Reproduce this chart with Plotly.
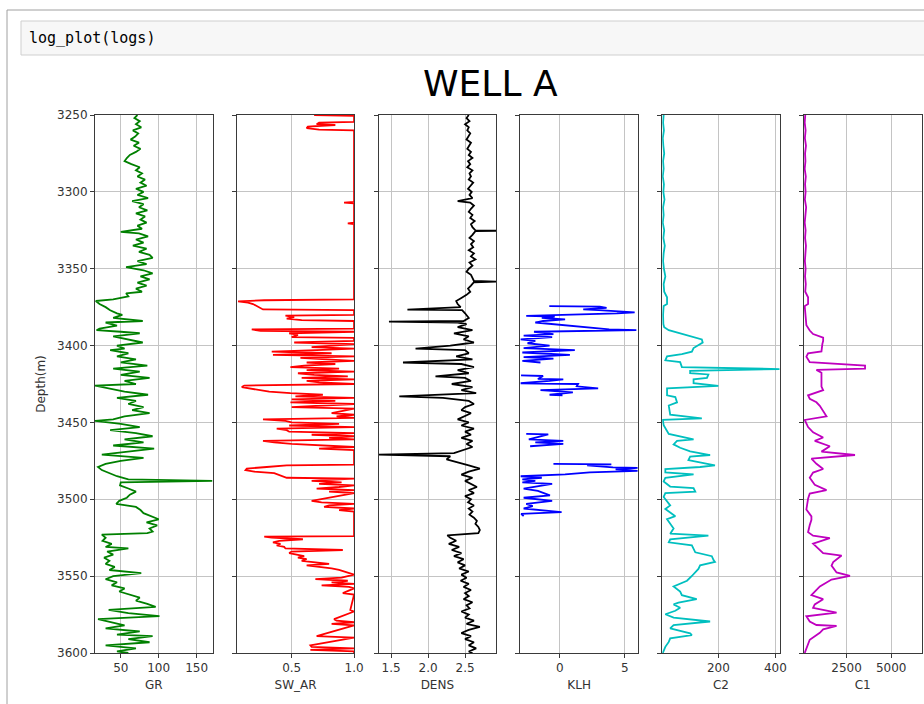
import plotly.graph_objects as go

W, H = 924, 704

# ---------------- data ----------------
gr_depth = [3250,3252,3254,3256,3258,3260,3262,3264,3266,3268,3270,3272,3274,3276,3278,3280,3282,3284,3286,3288,
            3290,3292,3294,3296,3298,3300,3302,3304,3306,3308,3310,3312,3314,3316,3318,3320,3322,3324,3326,3327,
            3329,3331,3333,3335,3337,3339,3341,3343,3345,3347,3349,3351,3353,3355,3357,3359,3361,3363,3365,3366,
            3368,3369,3370,3371,3373,3375,3377,3379,3380,3382,3384,3385,3387,3389,3390,3391,3392,3394,3396,3398,
            3400,3402,3403,3405,3407,3409,3411,3413,3415,3417,3419,3421,3423,3425,3426,3428,3430,3432,3434,3436,
            3438,3440,3442,3444,3446,3448,3449,3451,3453,3455,3457,3459,3461,3463,3465,3467,3469,3471,3473,3475,
            3477,3479,3481,3483,3485,3487,3488,3489,3491,3493,3495,3497,3499,3501,3503,3505,3507,3509,3511,3513,
            3515,3517,3519,3521,3522,3523,3525,3527,3529,3531,3532,3534,3536,3538,3540,3542,3544,3546,3548,3550,
            3552,3554,3556,3558,3560,3562,3564,3566,3568,3570,3572,3574,3576,3578,3580,3582,3584,3586,3588,3589,
            3591,3593,3595,3597,3599,3600]
gr_value = [72,68,75,70,77,66,73,69,63,74,67,76,70,62,58,55,64,75,70,78,
            72,82,76,84,70,80,72,86,65,80,74,85,70,82,76,84,72,78,50,74,
            86,70,80,66,84,74,88,92,72,84,57,80,92,76,88,72,84,70,78,57,
            60,50,40,17,22,30,36,45,52,40,79,30,45,22,18,50,75,40,60,79,
            45,55,36,60,45,70,50,85,40,75,50,88,55,70,16,35,55,86,45,70,
            60,80,65,88,55,40,16,50,75,36,70,92,55,80,40,94,60,25,80,50,
            30,20,25,35,45,60,171,50,49,60,70,62,58,48,44,70,76,80,90,100,
            84,98,88,92,85,25,30,26,38,30,60,32,40,28,35,30,42,35,77,40,
            30,45,38,55,48,60,75,70,85,96,34,60,101,20,40,55,30,75,45,92,
            60,88,30,70,45,60]

sw_depth = [3250,3250.6,3254.5,3255,3256,3256.5,3257.5,3258.5,3259.5,3260,3306.5,3307,3307.5,3320,3320.5,3321,
            3370,3370.5,3371.2,3372,3373,3374,3375.5,3376.5,3377,3380,3380.5,3381.5,3382.5,3383.5,3384,3389,
            3389.5,3390.5,3391,3392,3393,3394.5,3395,3397,3398,3399,3401,3402,3403,3404,3405,3406,3407,3408,
            3409,3410,3411,3412,3413,3414,3415,3416,3417,3418,3419,3420,3421,3422,3423,3424,3425,3426,3427,3428,
            3429,3430,3431,3432,3433,3434,3435,3436,3437,3438,3440,3441,3444,3445,3446,3447,3448,3449,3450,3451,
            3452,3453,3454,3455,3456,3457,3458,3459,3460,3461,3462,3463,3464,3465,3466,3467,3468,3477.5,3478,3479,
            3480,3481,3482,3483,3484,3485,3486,3486.5,3488,3489,3490,3491,3492,3493,3494,3495,3496,3501,3502,3503,
            3504,3505,3506,3507,3508,3524,3524.3,3525,3526,3527,3528,3529,3530,3531,3532,3533,3534,3535,3536,3537,
            3538,3539,3540,3541,3542,3543,3544,3545,3546,3547,3548,3549,3551,3552,3553,3554,3555,3556,3557,3558,
            3561,3562,3572,3573,3578,3579,3580,3581,3582,3589,3590,3595,3596,3597,3598,3599,3600]
sw_value = [0.68,1.0,1.0,0.72,0.70,0.85,0.63,0.62,0.72,1.0,1.0,0.92,1.0,1.0,0.95,1.0,
            1.0,0.28,0.07,0.15,0.19,0.21,0.24,0.27,1.0,1.0,0.45,0.52,0.46,0.58,1.0,1.0,
            0.18,0.25,1.0,0.48,0.55,0.50,1.0,1.0,0.52,1.0,0.66,1.0,0.70,0.34,0.82,0.35,1.0,0.57,
            0.78,1.0,0.62,0.85,0.60,0.49,0.88,0.62,1.0,0.55,0.68,0.95,0.58,1.0,0.62,0.72,1.0,0.12,0.10,0.18,
            0.25,0.32,0.49,0.75,0.53,1.0,0.50,0.85,0.49,1.0,0.50,1.0,0.82,1.0,0.86,1.0,0.27,0.45,0.50,0.88,
            0.48,1.0,0.38,0.46,0.48,1.0,0.66,1.0,0.80,1.0,0.27,0.36,0.50,0.75,1.0,0.72,1.0,1.0,0.46,0.30,
            0.14,0.13,0.20,0.36,0.40,0.44,0.46,1.0,0.66,0.90,0.72,1.0,0.88,0.70,1.0,0.80,1.0,0.66,0.74,1.0,
            0.80,0.76,1.0,0.88,1.0,1.0,0.28,0.34,0.59,0.40,0.35,0.41,0.38,0.44,0.45,0.91,0.50,0.48,0.53,0.60,
            0.55,0.62,0.58,0.70,0.80,0.62,0.75,0.82,0.88,0.92,0.96,1.0,0.90,0.69,0.95,0.82,1.0,0.74,0.96,1.0,
            0.91,1.0,0.97,1.0,0.84,0.86,1.0,0.82,1.0,0.70,1.0,0.65,0.66,1.0,0.65,1.0,1.0]

dens_depth = [3250,3252,3254,3256,3258,3260,3262,3264,3266,3268,3270,3272,3274,3276,3278,3280,3282,3284,3286,3288,
              3290,3292,3294,3296,3298,3300,3302,3304,3306,3307,3309,3311,3313,3315,3317,3319,3321,3323,3325,3325.3,
              3325.6,3328,3330,3332,3334,3336,3338,3340,3342,3344,3346,3348,3350,3352,3354,3356,3358,3358.4,3358.8,3361,
              3363,3365,3367,3369,3371,3373,3375,3376.6,3377,3379,3382,3384,3384.4,3385,3386,3388,3390,3392,3394,3396,
              3398,3400,3402,3403,3405,3407,3409,3411,3412,3414,3416,3418,3420,3421,3423,3425,3427,3429,3431,3433,
              3434,3436,3438,3440,3442,3444,3446,3448,3450,3452,3454,3456,3458,3460,3462,3464,3466,3468,3470,3471,
              3472,3474,3476,3478,3480,3482,3484,3486,3488,3490,3492,3494,3496,3498,3500,3502,3504,3506,3508,3510,
              3512,3514,3516,3518,3520,3522,3523.5,3525,3527,3529,3531,3533,3535,3537,3539,3541,3543,3545,3547,3549,
              3551,3553,3555,3557,3559,3561,3563,3565,3567,3569,3571,3573,3575,3577,3579,3581,3583,3585,3587,3589,
              3591,3593,3595,3597,3599,3600]
dens_value = [2.55,2.52,2.56,2.50,2.55,2.53,2.57,2.54,2.52,2.58,2.56,2.53,2.58,2.55,2.60,2.54,2.57,2.53,2.60,2.56,
              2.58,2.55,2.61,2.57,2.54,2.59,2.56,2.60,2.40,2.57,2.62,2.58,2.55,2.60,2.57,2.63,2.58,2.60,2.64,2.92,
              2.64,2.60,2.56,2.62,2.58,2.61,2.55,2.62,2.58,2.64,2.56,2.60,2.55,2.52,2.58,2.60,2.62,2.92,2.62,2.58,
              2.54,2.57,2.52,2.45,2.38,2.40,2.44,1.72,2.46,2.50,2.55,2.48,1.47,2.40,2.52,2.40,2.60,2.35,2.55,2.48,
              2.62,2.30,1.83,2.50,2.55,2.38,2.60,1.66,2.45,2.62,2.40,2.55,2.10,2.50,2.58,2.32,2.60,2.45,2.65,1.61,
              2.20,2.55,2.62,2.50,2.45,2.58,2.50,2.40,2.55,2.45,2.62,2.50,2.58,2.45,2.60,2.52,2.60,2.48,2.35,1.33,
              2.30,2.25,2.42,2.55,2.70,2.55,2.45,2.60,2.50,2.58,2.66,2.55,2.62,2.50,2.58,2.54,2.62,2.55,2.60,2.56,
              2.62,2.66,2.64,2.68,2.70,2.68,2.26,2.30,2.38,2.28,2.42,2.32,2.45,2.35,2.48,2.40,2.50,2.42,2.55,2.45,
              2.52,2.44,2.55,2.48,2.58,2.50,2.55,2.48,2.60,2.52,2.56,2.45,2.55,2.50,2.62,2.52,2.70,2.55,2.45,2.58,
              2.50,2.62,2.55,2.65,2.55,2.60]

klh_depth = [3374.3,3374.6,3375.5,3376.5,3377,3378.4,3379,3380,3380.7,3381.2,3382,3383,3384,3385,3386,3389.5,3390,
             3391,3392.5,3393.5,3394.5,3396,3397,3398.5,3400,3401.6,3403,3404.5,3406,3407.5,3408.5,3410,3411,3412,
             3419.4,3419.8,3421.7,3422,3423,3424.5,3425,3426.5,3427.9,3429,3430.5,3432,3432.4,3433,
             3457.5,3457.8,3461,3462,3463,3464,3465.5,3466,
             3477,3477.3,3478,3479.2,3479.6,3480.5,3481.5,3482.5,3483.8,3485,3486,3487,3488,3489,3490,3491.7,
             3493,3494.5,3497.4,3499,3501,3503,3504.5,3506,3508.4,3509.5,3511]
klh_value = [-0.82,3.08,3.6,1.8,3.0,5.77,4.4,-1.0,-2.6,-0.4,-1.4,0.4,-1.3,-1.9,-0.6,3.8,5.9,
             -2.0,-0.5,-2.8,-0.6,-3.05,-1.9,-2.5,-0.8,-2.8,1.15,-2.9,0.77,-2.8,-0.5,-2.9,-1.5,None,
             -3.0,-1.3,-1.7,0.26,-0.8,-3.05,1.4,1.3,2.95,-1.5,1.0,-0.8,0.2,None,
             -2.6,-0.9,-2.4,0.26,-1.9,0.26,-2.3,None,
             -0.5,3.97,2.1,4.1,6.0,4.3,6.0,2.3,0.4,-3.05,-1.4,-2.9,-1.9,-2.9,-0.6,-1.8,
             -2.8,-1.7,-0.77,-2.8,-0.6,-2.6,-2.1,-2.8,0.13,-3.0,-2.8]

c2_depth = [3250,3255,3260,3265,3270,3275,3280,3285,3290,3295,3300,3305,3310,3315,3320,3325,3330,3335,3340,3345,
            3350,3355,3360,3365,3368.6,3373,3374.3,3380,3386,3388,3390,3392.5,3394.8,3396,3398,3399,3401.6,3404,3405.5,3407,
            3409.6,3410.8,3414,3415.3,3416.5,3418,3418.8,3421,3422,3424.5,3426.2,3427.9,3432.4,3433.5,3437,3439,3445,3447.3,3448.4,3451.8,
            3454,3457.5,3461,3462,3464.3,3466.5,3468.8,3471.2,3472.3,3474.5,3478,3479,3480.3,3482.5,3483.8,3485,3486,3488.4,3491.7,3492.8,
            3495,3496,3498.5,3504,3506.3,3511,3513,3519,3522.4,3523.6,3526,3528,3530,3534.5,3537,3539.5,3540.8,3543,3545.3,3549.9,
            3553,3556.7,3560,3562.4,3565,3567.3,3568.4,3570.6,3572.5,3574.8,3577,3579.5,3581.8,3584,3587.2,3588.3,3590.5,3592.8,3596,3600]
c2_value = [8,6,9,5,7,10,6,8,5,9,7,11,6,8,5,10,7,12,8,6,
            9,14,8,10,20,20,8,6,7,10,26,72,113,142,145,135,113,107,72,20,
            14,66,72,415,101,101,165,160,113,113,200,20,20,49,55,26,31,142,5,8,
            14,26,113,55,43,66,101,171,101,95,188,136,14,14,113,55,14,8,31,113,
            119,14,8,31,14,49,20,43,31,165,31,26,107,119,177,183,188,136,130,107,
            90,43,66,72,124,60,43,66,49,14,43,171,43,31,101,107,31,26,14,5]

c1_depth = [3250,3255,3260,3265,3270,3275,3280,3285,3290,3295,3300,3305,3310,3315,3320,3325,3330,3335,3340,3345,
            3350,3355,3360,3365,3368.6,3373,3374.3,3380,3386.8,3390.2,3392.5,3394.8,3397,3399,3401.6,3403.8,3405,3407.2,3410.8,3413,
            3415,3415.8,3417.7,3420,3426.7,3429,3432.4,3434.6,3436.9,3439.2,3442.7,3446,3448.4,3453,3456.4,3459.8,3462,3465.5,3469,3471.2,
            3473.5,3476.9,3480.3,3482.6,3486,3490.6,3494,3496.3,3499.7,3506.6,3511.1,3513.4,3516.8,3521.4,3523.7,3525.3,3528.8,3531.1,3535,3536.6,
            3540.8,3543.1,3547.6,3549.9,3552.2,3556.7,3559,3562.4,3565,3568.4,3570.6,3573.8,3576.1,3579.5,3581.8,3582.4,3584.6,3586.9,3591.4,3600]
c1_value = [180,150,200,160,220,170,190,150,210,170,200,160,230,180,150,200,170,220,180,160,
            200,170,210,180,338,338,150,180,244,432,620,1184,1184,1140,1090,1090,338,244,432,3534,
            3534,808,1090,1090,1090,1184,338,432,808,996,1184,1372,150,338,620,1184,714,1560,1090,2970,
            526,808,1184,620,432,714,1372,432,338,244,526,526,432,338,620,1560,620,808,1184,2218,
            1748,1654,1936,2688,1654,1000,808,526,1184,714,620,1936,244,432,808,1936,1184,996,432,150]

curve_names = ["GR", "SW_AR", "DENS", "KLH", "C2", "C1"]
curve_colors = ["#008000", "#ff0000", "#000000", "#0000ff", "#00bfbf", "#bf00bf"]
x_ranges = [[16, 171], [0.06, 1.002], [1.33, 2.92], [-3.05, 6.02], [3, 415], [110, 6700]]
x_tickvals = [[50, 100, 150], [0.5, 1.0], [1.5, 2.0, 2.5], [0, 5], [200, 400], [2500, 5000]]
x_ticktext = [["50", "100", "150"], ["0.5", "1.0"], ["1.5", "2.0", "2.5"], ["0", "5"], ["200", "400"], ["2500", "5000"]]
depth_ticks = [3250, 3300, 3350, 3400, 3450, 3500, 3550, 3600]
depth_range = [3600, 3250]
title_text = "WELL A"
cell_code = "log_plot(logs)"

depths = [gr_depth, sw_depth, dens_depth, klh_depth, c2_depth, c1_depth]
values = [gr_value, sw_value, dens_value, klh_value, c2_value, c1_value]

# ---------------- layout helpers (pixel -> paper) ----------------
def px(x):
    return x / W

def py(y):
    return 1 - y / H

panel_left0 = 95.0
panel_step = 141.8
panel_w = 117.5
top_px, bot_px = 115, 653

fig = go.Figure()
layout = dict(
    width=W, height=H,
    margin=dict(l=0, r=0, t=0, b=0),
    paper_bgcolor="white", plot_bgcolor="white",
    showlegend=False,
    font=dict(family="DejaVu Sans", size=12, color="#333333"),
)

axis_line = "#3a3a3a"
grid_col = "#c4c4c4"

for i in range(6):
    n = "" if i == 0 else str(i + 1)
    fig.add_trace(go.Scatter(
        x=values[i], y=depths[i], mode="lines",
        line=dict(color=curve_colors[i], width=1.8),
        xaxis="x" + n, yaxis="y" + n, hoverinfo="skip",
    ))
    x0 = panel_left0 + i * panel_step
    layout["xaxis" + n] = dict(
        domain=[px(x0), px(x0 + panel_w)], anchor="y" + n,
        range=x_ranges[i], tickvals=x_tickvals[i], ticktext=x_ticktext[i],
        showline=True, mirror=True, linecolor=axis_line, linewidth=1,
        ticks="outside", ticklen=4, tickcolor=axis_line,
        showgrid=True, gridcolor=grid_col, gridwidth=1, zeroline=False,
        title=dict(text=curve_names[i], standoff=6, font=dict(size=12, color="#333333")),
        automargin=False, tickfont=dict(size=12, color="#333333"),
    )
    layout["yaxis" + n] = dict(
        domain=[py(bot_px), py(top_px)], anchor="x" + n,
        range=depth_range, tickvals=depth_ticks,
        showline=True, mirror=True, linecolor=axis_line, linewidth=1,
        ticks="outside", ticklen=4, tickcolor=axis_line,
        showgrid=True, gridcolor=grid_col, gridwidth=1, zeroline=False,
        showticklabels=(i == 0), automargin=False,
        tickfont=dict(size=12, color="#333333"),
    )
    if i == 0:
        layout["yaxis"]["title"] = dict(text="Depth(m)", standoff=8, font=dict(size=12, color="#333333"))

# notebook chrome
layout["shapes"] = [
    dict(type="line", xref="paper", yref="paper", x0=px(7), x1=px(924), y0=py(10), y1=py(10),
         line=dict(color="#a0a0a0", width=1)),
    dict(type="line", xref="paper", yref="paper", x0=px(7), x1=px(7), y0=py(10), y1=py(704),
         line=dict(color="#a0a0a0", width=1)),
    dict(type="rect", xref="paper", yref="paper", x0=px(21), x1=px(935), y0=py(55), y1=py(21),
         fillcolor="#f7f7f7", line=dict(color="#cfcfcf", width=1), layer="below"),
]
layout["annotations"] = [
    dict(text=cell_code, xref="paper", yref="paper", x=px(27), y=py(38), xanchor="left", yanchor="middle",
         showarrow=False, font=dict(family="DejaVu Sans Mono", size=15, color="#000000")),
    dict(text=title_text, xref="paper", yref="paper", x=px(490), y=py(83), xanchor="center", yanchor="middle",
         showarrow=False, font=dict(family="DejaVu Sans", size=36, color="#000000")),
]

fig.update_layout(**layout)
fig.write_html("out.html")
